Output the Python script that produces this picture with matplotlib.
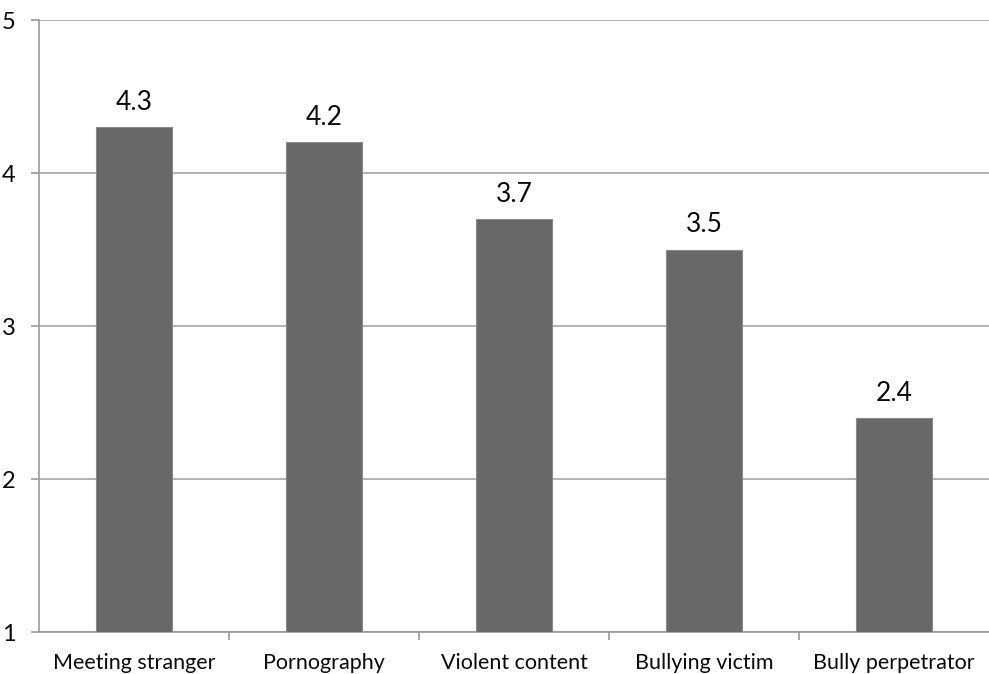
import matplotlib

matplotlib.use("Agg")
import matplotlib.pyplot as plt
import numpy as np

# Средние оценки по типам онлайн-рисков
categories = ["Meeting stranger", "Pornography", "Violent content", "Bullying victim", "Bully perpetrator"]
values = [4.3, 4.2, 3.7, 3.5, 2.4]
y_ticks = [1, 2, 3, 4, 5]

plt.rcParams["font.family"] = ["Lato", "DejaVu Sans"]

fig = plt.figure(figsize=(9.89, 6.74), dpi=100)
ax = fig.add_axes([0.0394, 0.0623, 0.9606, 0.908])

x = np.arange(len(categories))
base = y_ticks[0]
heights = [v - base for v in values]
ax.bar(x, heights, width=0.4, bottom=base, color="#686868", edgecolor="#8a8a8a",
       linewidth=0.8, zorder=3)
for xi, v in zip(x, values):
    ax.text(xi, v + 0.08, f"{v:.1f}", ha="center", va="bottom", fontsize=19, color="#0a0a0a")

ax.set_xlim(-0.5, len(categories) - 0.5)
ax.set_ylim(y_ticks[0], y_ticks[-1])
ax.set_yticks(y_ticks)
ax.set_yticklabels([str(t) for t in y_ticks])
ax.yaxis.grid(True, color="#a6a6a6", linewidth=1.2, zorder=0)

# Деления между категориями, подписи по центру
ax.set_xticks(x[:-1] + 0.5)
ax.set_xticklabels([])
ax.set_xticks(x, minor=True)
ax.set_xticklabels(categories, minor=True, fontsize=15.5, color="#0a0a0a")
ax.tick_params(axis="x", which="major", direction="out", length=6, color="#999999", width=1.2)
ax.tick_params(axis="x", which="minor", length=0, pad=15)
ax.tick_params(axis="y", direction="out", length=6, color="#999999", width=1.2,
               labelsize=17, labelcolor="#0a0a0a", pad=11)

for side in ("top", "right"):
    ax.spines[side].set_visible(False)
for side in ("left", "bottom"):
    ax.spines[side].set_color("#999999")
    ax.spines[side].set_linewidth(1.2)

fig.savefig("out.png", dpi=100)
